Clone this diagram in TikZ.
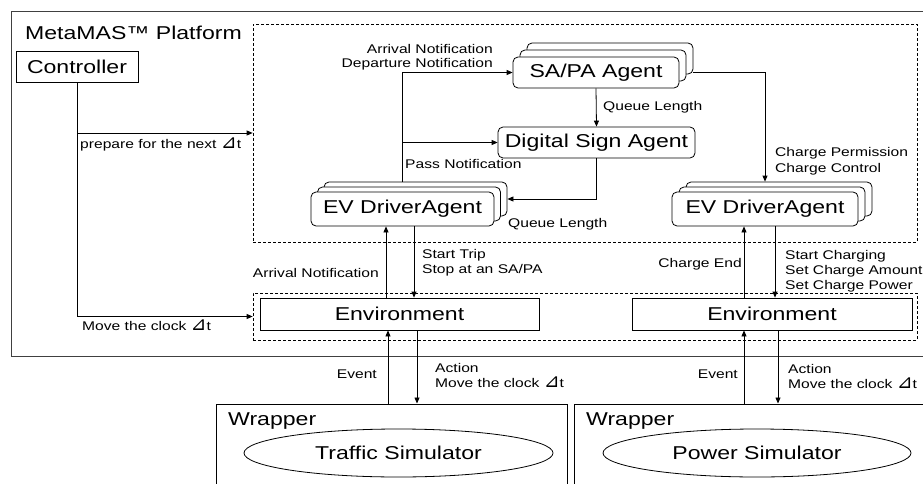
\documentclass[tikz,border=0pt]{standalone}
\usepackage{fontspec}
\setmainfont{Liberation Sans}[FakeStretch=1.24]
\newfontfamily\symfont{DejaVu Sans}
\usetikzlibrary{shapes.geometric,arrows.meta,calc}
\newcommand{\dlt}{{\symfont\fontsize{19}{19}\selectfont ⊿}t}
\begin{document}
\begin{tikzpicture}[x=1pt,y=-1pt,
  big/.style={font=\fontsize{18.6}{22}\selectfont},
  lbl/.style={font=\fontsize{12.6}{15}\selectfont, inner sep=0pt},
  agent/.style={draw, rounded corners=5pt, fill=white, line width=0.8pt, inner sep=0pt, big},
  plainbox/.style={draw, fill=white, line width=0.8pt, inner sep=0pt, big},
  dashbox/.style={draw, dash pattern=on 3pt off 2pt, line width=0.7pt, inner sep=0pt},
  arr/.style={-{Triangle[length=6pt,width=5pt]}, line width=0.8pt}]
\useasboundingbox (0,0) rectangle (923,484);
\clip (0,0) rectangle (923,484);
% platform frame
\node[draw=black!75, line width=1pt, minimum width=929, minimum height=344, inner sep=0pt] (platform) at (475.5,184) {};
\node[big, inner sep=0pt, anchor=base west] (ptitle) at (25,40) {MetaMAS™ Platform};
\node[dashbox, minimum width=664, minimum height=218] (agents) at (585,133) {};
\node[dashbox, minimum width=664, minimum height=47] (envs) at (585,316.5) {};
% boxes
\node[plainbox, minimum width=122, minimum height=31] (ctrl) at (77,66.5) {Controller};
\node[agent, minimum width=166, minimum height=31] (sapa3) at (610,58.5) {};
\node[agent, minimum width=166, minimum height=31] (sapa2) at (603,65.5) {};
\node[agent, minimum width=166, minimum height=31] (sapa) at (596,72.5) {SA/PA Agent};
\node[agent, minimum width=197, minimum height=31] (dsa) at (596.5,142.5) {Digital Sign Agent};
\node[agent, minimum width=183, minimum height=34] (evl3) at (415.5,199) {};
\node[agent, minimum width=183, minimum height=34] (evl2) at (409,204) {};
\node[agent, minimum width=183, minimum height=34] (evl) at (402.5,209) {EV DriverAgent};
\node[agent, minimum width=186, minimum height=34] (evr3) at (779,199) {};
\node[agent, minimum width=186, minimum height=34] (evr2) at (772,204) {};
\node[agent, minimum width=186, minimum height=34] (evr) at (765,209) {EV DriverAgent};
\node[plainbox, minimum width=279, minimum height=32] (env1) at (399.5,314) {Environment};
\node[plainbox, minimum width=280, minimum height=32] (env2) at (772,314) {Environment};
\node[draw, line width=1pt, minimum width=351, minimum height=106, inner sep=0pt] (wrap1) at (391.5,457) {};
\node[draw, line width=1pt, minimum width=366, minimum height=106, inner sep=0pt] (wrap2) at (757,457) {};
\node[big, inner sep=0pt, anchor=base west] (w1t) at (228,425) {Wrapper};
\node[big, inner sep=0pt, anchor=base west] (w2t) at (586,425) {Wrapper};
\node[draw, ellipse, line width=0.8pt, inner sep=0pt, minimum width=309, minimum height=48, big] (sim1) at (398.5,453) {Traffic Simulator};
\node[draw, ellipse, line width=0.8pt, inner sep=0pt, minimum width=308, minimum height=48, big] (sim2) at (757,453) {Power Simulator};
% controller connectors
\draw[arr] (ctrl.south) |- (envs.west);
\draw[arr] (ctrl.south |- agents.west) -- (agents.west);
% agent connectors
\draw[arr] (evl.center |- evl3.north) |- (sapa.west);
\draw[arr] (evl.center |- dsa.west) -- (dsa.west);
\draw[arr] (sapa.south) -- (dsa.north);
\draw[arr] (dsa.south) |- (evl3.east);
\draw[arr] (sapa3.east |- sapa.east) -| (evr.center |- evr3.north);
% agent <-> environment
\draw[arr] ($(env1.north)+(-13.5,0)$) -- ($(env1.north |- evl.south)+(-13.5,0)$);
\draw[arr] ($(env1.north |- evl.south)+(14.5,0)$) -- ($(env1.north)+(14.5,0)$);
\draw[arr] ($(env2.north)+(-28,0)$) -- ($(env2.north |- evr.south)+(-28,0)$);
\draw[arr] ($(env2.north |- evr.south)+(3,0)$) -- ($(env2.north)+(3,0)$);
% environment <-> wrapper
\draw[arr] ($(env1.south |- wrap1.north)+(-11.5,0)$) -- ($(env1.south)+(-11.5,0)$);
\draw[arr] ($(env1.south)+(17.5,0)$) -- ($(env1.south |- wrap1.north)+(17.5,0)$);
\draw[arr] ($(env2.south |- wrap2.north)+(-28,0)$) -- ($(env2.south)+(-28,0)$);
\draw[arr] ($(env2.south)+(6,0)$) -- ($(env2.south |- wrap2.north)+(6,0)$);
% labels
\node[lbl, anchor=base west] (l1) at (80,149) {prepare for the next \dlt};
\node[lbl, anchor=base west] (l2) at (82,330) {Move the clock \dlt};
\node[lbl, anchor=base east] (l3) at (493,54) {Arrival Notification};
\node[lbl, anchor=base east] (l4) at (493,68) {Departure Notification};
\node[lbl, anchor=base west] (l5) at (603,111) {Queue Length};
\node[lbl, anchor=base west] (l6) at (405,168) {Pass Notification};
\node[lbl, anchor=base west] (l7) at (775,157) {Charge Permission};
\node[lbl, anchor=base west] (l8) at (775,172) {Charge Control};
\node[lbl, anchor=base west] (l9) at (508,227) {Queue Length};
\node[lbl, anchor=base east] (l10) at (379,277) {Arrival Notification};
\node[lbl, anchor=base west] (l11) at (422,258) {Start Trip};
\node[lbl, anchor=base west] (l12) at (422,273) {Stop at an SA/PA};
\node[lbl, anchor=base east] (l13) at (742,267) {Charge End};
\node[lbl, anchor=base west] (l14) at (785,259) {Start Charging};
\node[lbl, anchor=base west] (l15) at (785,274) {Set Charge Amount};
\node[lbl, anchor=base west] (l16) at (785,289) {Set Charge Power};
\node[lbl, anchor=base east] (l17) at (377,378) {Event};
\node[lbl, anchor=base west] (l18) at (435,372) {Action};
\node[lbl, anchor=base west] (l19) at (435,387) {Move the clock \dlt};
\node[lbl, anchor=base east] (l20) at (738,378) {Event};
\node[lbl, anchor=base west] (l21) at (788,373) {Action};
\node[lbl, anchor=base west] (l22) at (788,388) {Move the clock \dlt};
\end{tikzpicture}
\end{document}
